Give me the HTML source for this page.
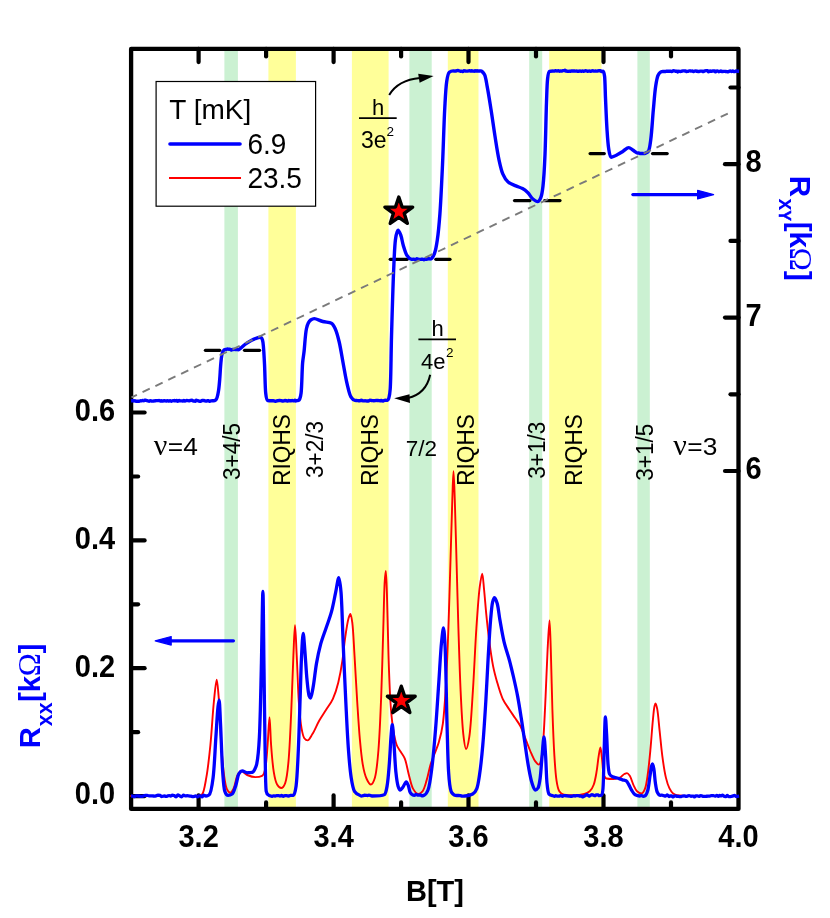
<!DOCTYPE html>
<html><head><meta charset="utf-8"><title>fig</title>
<style>
html,body{margin:0;padding:0;background:#fff;}
body{width:830px;height:918px;overflow:hidden;}
svg{display:block;font-family:"Liberation Sans",sans-serif;will-change:transform;}
.b{font-weight:bold;}
.ser{font-family:"Liberation Serif",serif;}
</style></head><body>
<svg width="830" height="918" viewBox="0 0 830 918">
<rect x="0" y="0" width="830" height="918" fill="#ffffff"/>

<rect x="224.4" y="48.9" width="13.5" height="760.0" fill="#cbf1d2"/>
<rect x="268.4" y="48.9" width="27.5" height="760.0" fill="#ffff99"/>
<rect x="351.9" y="48.9" width="36.7" height="760.0" fill="#ffff99"/>
<rect x="409.4" y="48.9" width="22.3" height="760.0" fill="#cbf1d2"/>
<rect x="447.8" y="48.9" width="30.7" height="760.0" fill="#ffff99"/>
<rect x="529.2" y="48.9" width="13.0" height="760.0" fill="#cbf1d2"/>
<rect x="549.2" y="48.9" width="52.3" height="760.0" fill="#ffff99"/>
<rect x="637.4" y="48.9" width="12.4" height="760.0" fill="#cbf1d2"/>
<rect x="156.1" y="81.5" width="159.5" height="124.7" fill="#fff" stroke="#000" stroke-width="1.2"/>
<text x="169.3" y="118.9" font-size="28">T [mK]</text>
<line x1="170" y1="144" x2="240" y2="144" stroke="#0000ff" stroke-width="3.6" stroke-linecap="round"/>
<line x1="169" y1="178" x2="241" y2="178" stroke="#ff0000" stroke-width="2"/>
<text transform="translate(247.4,153.7) scale(1,1.05)" font-size="28">6.9</text>
<text transform="translate(247.4,187.9) scale(1,1.05)" font-size="28">23.5</text>
<line x1="205.4" y1="350.3" x2="219.8" y2="350.3" stroke="#000" stroke-width="3.2" stroke-linecap="round"/>
<line x1="244.5" y1="350.3" x2="259.6" y2="350.3" stroke="#000" stroke-width="3.2" stroke-linecap="round"/>
<line x1="390.2" y1="259.3" x2="407.3" y2="259.3" stroke="#000" stroke-width="3.2" stroke-linecap="round"/>
<line x1="435.8" y1="259.3" x2="450.0" y2="259.3" stroke="#000" stroke-width="3.2" stroke-linecap="round"/>
<line x1="514.5" y1="200.6" x2="529.9" y2="200.6" stroke="#000" stroke-width="3.2" stroke-linecap="round"/>
<line x1="544.6" y1="200.6" x2="560.0" y2="200.6" stroke="#000" stroke-width="3.2" stroke-linecap="round"/>
<line x1="590.1" y1="153.6" x2="604.3" y2="153.6" stroke="#000" stroke-width="3.2" stroke-linecap="round"/>
<line x1="652.5" y1="153.6" x2="667.2" y2="153.6" stroke="#000" stroke-width="3.2" stroke-linecap="round"/>
<line x1="198.6" y1="808.9" x2="198.6" y2="795.4" stroke="#000" stroke-width="4.2" stroke-linecap="round"/>
<line x1="198.6" y1="48.9" x2="198.6" y2="62.1" stroke="#000" stroke-width="4.2" stroke-linecap="round"/>
<line x1="266.1" y1="808.9" x2="266.1" y2="802.4" stroke="#000" stroke-width="4.2" stroke-linecap="round"/>
<line x1="266.1" y1="48.9" x2="266.1" y2="56.4" stroke="#000" stroke-width="4.2" stroke-linecap="round"/>
<line x1="333.6" y1="808.9" x2="333.6" y2="795.4" stroke="#000" stroke-width="4.2" stroke-linecap="round"/>
<line x1="333.6" y1="48.9" x2="333.6" y2="62.1" stroke="#000" stroke-width="4.2" stroke-linecap="round"/>
<line x1="401.1" y1="808.9" x2="401.1" y2="802.4" stroke="#000" stroke-width="4.2" stroke-linecap="round"/>
<line x1="401.1" y1="48.9" x2="401.1" y2="56.4" stroke="#000" stroke-width="4.2" stroke-linecap="round"/>
<line x1="468.5" y1="808.9" x2="468.5" y2="795.4" stroke="#000" stroke-width="4.2" stroke-linecap="round"/>
<line x1="468.5" y1="48.9" x2="468.5" y2="62.1" stroke="#000" stroke-width="4.2" stroke-linecap="round"/>
<line x1="536.0" y1="808.9" x2="536.0" y2="802.4" stroke="#000" stroke-width="4.2" stroke-linecap="round"/>
<line x1="536.0" y1="48.9" x2="536.0" y2="56.4" stroke="#000" stroke-width="4.2" stroke-linecap="round"/>
<line x1="603.5" y1="808.9" x2="603.5" y2="795.4" stroke="#000" stroke-width="4.2" stroke-linecap="round"/>
<line x1="603.5" y1="48.9" x2="603.5" y2="62.1" stroke="#000" stroke-width="4.2" stroke-linecap="round"/>
<line x1="671.0" y1="808.9" x2="671.0" y2="802.4" stroke="#000" stroke-width="4.2" stroke-linecap="round"/>
<line x1="671.0" y1="48.9" x2="671.0" y2="56.4" stroke="#000" stroke-width="4.2" stroke-linecap="round"/>
<line x1="131.1" y1="796.1" x2="144.6" y2="796.1" stroke="#000" stroke-width="4.2" stroke-linecap="round"/>
<line x1="131.1" y1="732.2" x2="138.1" y2="732.2" stroke="#000" stroke-width="4.2" stroke-linecap="round"/>
<line x1="131.1" y1="668.2" x2="144.6" y2="668.2" stroke="#000" stroke-width="4.2" stroke-linecap="round"/>
<line x1="131.1" y1="604.3" x2="138.1" y2="604.3" stroke="#000" stroke-width="4.2" stroke-linecap="round"/>
<line x1="131.1" y1="540.4" x2="144.6" y2="540.4" stroke="#000" stroke-width="4.2" stroke-linecap="round"/>
<line x1="131.1" y1="476.5" x2="138.1" y2="476.5" stroke="#000" stroke-width="4.2" stroke-linecap="round"/>
<line x1="131.1" y1="412.5" x2="144.6" y2="412.5" stroke="#000" stroke-width="4.2" stroke-linecap="round"/>
<line x1="738.5" y1="471.0" x2="725.0" y2="471.0" stroke="#000" stroke-width="4.2" stroke-linecap="round"/>
<line x1="738.5" y1="394.3" x2="730.5" y2="394.3" stroke="#000" stroke-width="4.2" stroke-linecap="round"/>
<line x1="738.5" y1="317.6" x2="725.0" y2="317.6" stroke="#000" stroke-width="4.2" stroke-linecap="round"/>
<line x1="738.5" y1="240.9" x2="730.5" y2="240.9" stroke="#000" stroke-width="4.2" stroke-linecap="round"/>
<line x1="738.5" y1="164.2" x2="725.0" y2="164.2" stroke="#000" stroke-width="4.2" stroke-linecap="round"/>
<line x1="738.5" y1="87.5" x2="730.5" y2="87.5" stroke="#000" stroke-width="4.2" stroke-linecap="round"/>
<rect x="131.1" y="48.9" width="607.4" height="760.0" fill="none" stroke="#000" stroke-width="4.3" stroke-linejoin="round"/>
<path d="M131.10,796.00 C147.40,796.00 167.93,796.00 180.00,796.00 C187.32,796.00 194.40,796.00 198.00,796.00 C199.76,796.00 201.04,795.29 202.00,794.50 C203.94,792.92 205.12,784.20 206.30,777.70 C207.93,768.74 209.23,756.67 210.40,745.00 C211.74,731.57 212.66,713.39 213.90,701.50 C214.78,693.06 215.88,679.70 216.70,679.70 C217.41,679.70 218.02,689.26 218.60,696.00 C219.60,707.65 220.29,730.74 221.30,745.00 C222.09,756.17 222.91,767.09 224.00,775.00 C224.74,780.37 225.44,785.73 226.70,788.60 C227.49,790.40 229.16,792.70 230.30,792.70 C231.42,792.70 232.56,790.38 233.50,788.60 C235.06,785.67 235.98,777.89 237.60,775.00 C238.61,773.21 239.79,770.90 241.20,770.90 C242.81,770.90 244.90,774.12 247.10,775.00 C249.49,775.96 252.69,777.10 255.30,777.10 C257.66,777.10 260.71,776.53 262.10,775.80 C263.74,774.94 264.94,770.44 265.60,766.80 C266.60,761.32 266.99,752.70 267.60,745.00 C268.29,736.33 268.92,717.30 269.50,717.30 C270.08,717.30 270.43,735.82 271.10,745.00 C271.77,754.12 272.62,765.07 273.80,772.20 C274.60,777.07 275.62,782.07 277.10,784.50 C278.06,786.08 279.90,788.00 281.20,788.00 C282.60,788.00 284.35,785.31 285.20,783.10 C286.79,778.99 287.71,769.99 288.50,761.40 C289.69,748.56 290.42,729.36 291.20,712.40 C292.04,694.08 292.66,671.06 293.40,655.20 C293.93,643.73 294.45,625.30 295.00,625.30 C295.55,625.30 296.14,644.19 296.70,655.20 C297.40,668.90 297.90,688.20 298.80,701.50 C299.49,711.72 300.43,722.18 301.60,728.70 C302.30,732.62 303.09,736.56 304.30,738.20 C305.07,739.24 306.49,740.40 307.60,740.40 C309.18,740.40 310.77,736.63 312.40,734.10 C314.66,730.59 316.91,724.71 319.30,720.50 C321.48,716.65 323.84,713.31 326.10,709.70 C328.37,706.08 331.05,702.89 332.90,698.80 C335.05,694.06 336.85,688.29 338.30,682.40 C339.94,675.74 341.34,667.96 342.40,660.70 C343.46,653.46 343.99,646.03 345.00,638.90 C345.98,631.98 347.27,622.61 348.50,618.50 C349.10,616.48 349.85,613.90 350.40,613.90 C351.13,613.90 351.81,618.89 352.30,622.60 C353.24,629.71 353.76,643.41 354.50,655.20 C355.39,669.25 356.26,686.83 357.20,701.50 C358.06,714.81 358.88,728.35 359.90,739.60 C360.72,748.64 361.48,757.04 362.70,764.10 C363.66,769.69 365.06,775.53 366.70,779.00 C367.79,781.32 369.48,784.50 370.80,784.50 C372.22,784.50 374.01,780.69 374.90,777.70 C376.56,772.15 377.54,761.03 378.40,750.50 C379.61,735.65 380.45,715.23 381.20,696.10 C382.04,674.70 382.68,648.44 383.30,628.00 C383.81,611.16 384.11,591.47 384.70,581.80 C384.99,577.09 385.49,570.90 385.80,570.90 C386.23,570.90 386.56,583.76 386.90,592.70 C387.48,607.83 387.88,635.96 388.50,655.20 C389.03,671.76 389.57,688.20 390.40,701.50 C391.04,711.71 391.95,720.87 393.10,728.70 C394.00,734.82 395.20,740.96 396.70,745.00 C397.73,747.78 399.35,749.54 400.70,751.80 C402.05,754.07 403.68,755.82 404.80,758.60 C406.44,762.66 407.47,769.81 408.90,775.00 C410.21,779.76 411.22,785.46 413.00,788.60 C414.31,790.90 416.65,794.00 418.40,794.00 C419.80,794.00 421.41,792.56 422.50,791.30 C424.18,789.35 425.35,784.42 426.60,780.40 C428.10,775.58 429.20,768.92 430.70,764.10 C431.95,760.08 433.45,756.84 434.80,753.20 C436.15,749.57 437.62,746.44 438.80,742.30 C440.33,736.94 441.97,730.47 442.90,723.30 C444.11,713.98 444.82,703.15 445.60,690.60 C446.67,673.25 447.62,649.30 448.40,628.00 C449.21,605.81 449.83,581.95 450.50,560.00 C451.13,539.38 451.71,516.17 452.30,500.00 C452.71,488.81 453.08,471.30 453.50,471.30 C453.92,471.30 454.39,488.81 454.80,500.00 C455.40,516.17 455.92,539.38 456.50,560.00 C457.12,581.95 457.71,605.81 458.40,628.00 C459.07,649.30 459.72,671.69 460.60,690.60 C461.33,706.38 462.13,723.66 463.30,734.10 C463.99,740.28 465.06,749.10 466.10,749.10 C467.05,749.10 468.49,742.12 469.30,736.90 C470.86,726.88 471.80,707.17 472.90,690.60 C474.17,671.35 475.14,646.56 476.40,628.00 C477.42,613.00 478.44,596.88 479.70,587.20 C480.43,581.57 481.51,573.60 482.20,573.60 C482.95,573.60 483.48,583.93 484.10,589.90 C484.85,597.21 485.49,606.24 486.30,614.40 C487.11,622.57 487.94,630.53 489.00,638.90 C490.12,647.74 491.56,658.27 493.10,666.10 C494.31,672.22 495.64,676.99 497.20,682.40 C498.78,687.89 500.53,694.05 502.70,698.80 C504.57,702.89 507.34,706.36 509.50,709.70 C511.38,712.61 513.10,715.09 514.90,717.80 C516.70,720.52 518.66,722.87 520.30,726.00 C522.31,729.83 523.98,735.06 525.80,739.60 C527.62,744.13 529.44,749.30 531.20,753.20 C532.59,756.29 533.81,759.51 535.30,761.40 C536.37,762.76 537.91,764.60 538.80,764.60 C539.84,764.60 540.74,761.17 541.30,758.60 C542.33,753.89 542.89,745.20 543.50,736.90 C544.33,725.53 544.94,710.13 545.60,696.10 C546.30,681.16 546.87,663.43 547.60,649.80 C548.18,638.94 548.99,620.40 549.50,620.40 C550.01,620.40 550.40,638.39 550.80,649.80 C551.38,666.08 551.77,691.06 552.40,709.70 C552.95,726.08 553.61,743.04 554.40,755.90 C554.98,765.28 555.55,774.00 556.50,780.40 C557.14,784.73 557.97,789.17 559.30,791.30 C560.25,792.81 561.99,794.30 563.90,794.60 C566.58,795.02 571.47,795.30 575.00,795.30 C578.24,795.30 581.71,794.64 584.30,794.00 C586.38,793.49 588.26,792.53 589.70,791.30 C591.35,789.89 592.85,787.15 593.80,784.50 C595.00,781.16 595.75,776.60 596.50,772.20 C597.36,767.18 597.94,760.39 598.70,755.90 C599.25,752.66 599.89,747.50 600.40,747.50 C600.96,747.50 601.43,753.92 601.90,757.70 C602.50,762.47 602.73,770.55 603.60,774.00 C604.09,775.95 605.06,778.23 606.30,778.50 C607.75,778.81 611.19,779.00 613.50,779.00 C615.68,779.00 617.99,778.29 619.80,777.60 C621.51,776.95 622.92,774.61 624.30,774.00 C625.27,773.57 626.15,773.10 627.00,773.10 C627.99,773.10 628.96,774.61 629.80,775.80 C631.13,777.68 632.11,782.11 633.40,784.80 C634.52,787.14 635.55,789.93 637.00,791.20 C638.20,792.26 640.24,793.50 641.50,793.50 C642.90,793.50 644.29,790.56 645.10,788.40 C646.34,785.09 647.02,779.45 647.80,774.00 C648.83,766.82 649.68,757.42 650.50,748.70 C651.37,739.40 652.11,727.54 652.90,719.80 C653.44,714.48 653.85,708.80 654.50,706.20 C654.80,705.00 655.23,703.50 655.60,703.50 C656.12,703.50 656.73,706.57 657.20,708.90 C658.12,713.49 658.78,723.09 659.60,730.60 C660.48,738.71 661.24,747.81 662.30,755.90 C663.29,763.42 664.49,771.74 665.90,777.60 C666.91,781.81 668.11,785.63 669.50,788.40 C670.53,790.45 671.75,792.48 673.10,793.50 C674.19,794.33 675.21,795.07 676.80,795.30 C679.65,795.71 684.41,796.00 690.00,796.00 C700.66,796.00 722.00,796.00 738.00,796.00" fill="none" stroke="#ff0000" stroke-width="1.9" stroke-linejoin="round" stroke-linecap="round"/>
<path d="M131.10,796.00 C131.63,796.01 132.19,796.02 132.70,796.04 C133.21,796.07 133.67,796.56 134.18,796.56 C134.72,796.56 135.36,795.88 135.87,795.88 C136.28,795.88 136.58,795.88 137.01,795.88 C137.56,795.88 138.28,795.93 138.93,795.98 C139.61,796.03 140.36,796.33 141.01,796.33 C141.56,796.33 142.05,796.30 142.58,796.26 C143.15,796.22 143.77,795.66 144.31,795.56 C144.76,795.48 145.13,795.43 145.58,795.40 C146.08,795.36 146.65,795.32 147.20,795.32 C147.80,795.32 148.41,795.92 149.03,795.92 C149.64,795.92 150.28,795.86 150.88,795.86 C151.45,795.86 151.98,795.92 152.57,795.96 C153.19,796.01 153.90,796.11 154.52,796.11 C155.07,796.11 155.56,795.95 156.09,795.82 C156.68,795.67 157.27,795.09 157.90,795.09 C158.54,795.09 159.31,795.22 159.90,795.36 C160.48,795.50 160.87,796.50 161.45,796.50 C162.04,796.50 162.88,796.27 163.47,796.15 C163.93,796.05 164.30,795.86 164.72,795.86 C165.16,795.86 165.57,796.47 166.04,796.47 C166.57,796.47 167.22,796.05 167.77,795.90 C168.26,795.76 168.70,795.56 169.18,795.56 C169.66,795.56 170.14,795.98 170.63,795.98 C171.18,795.98 171.73,795.16 172.31,795.16 C172.88,795.16 173.50,795.33 174.09,795.51 C174.77,795.71 175.49,796.86 176.10,796.86 C176.74,796.86 177.21,794.92 177.86,794.92 C178.49,794.92 179.34,795.68 180.00,796.00 C180.57,796.28 181.06,796.75 181.60,796.75 C182.25,796.75 182.93,795.11 183.59,795.11 C184.15,795.11 184.67,795.93 185.25,795.93 C185.86,795.93 186.56,795.70 187.17,795.70 C187.75,795.70 188.27,795.89 188.84,795.96 C189.46,796.04 190.13,796.07 190.78,796.16 C191.47,796.26 192.22,796.69 192.85,796.69 C193.39,796.69 193.90,796.55 194.37,796.43 C194.82,796.31 195.17,795.79 195.63,795.79 C196.21,795.79 197.04,796.74 197.59,796.74 C198.04,796.74 198.30,795.90 198.75,795.90 C199.26,795.90 200.02,795.90 200.56,795.91 C201.09,795.92 201.53,796.93 202.00,796.93 C202.55,796.93 202.97,795.14 203.61,795.14 C204.26,795.14 205.16,796.00 206.00,796.00 C206.94,796.00 208.24,795.53 209.00,795.00 C210.80,793.74 212.23,784.62 213.10,777.70 C214.42,767.21 215.03,749.43 215.90,736.90 C216.65,726.15 217.26,713.07 218.00,706.90 C218.35,703.95 218.79,700.10 219.10,700.10 C219.66,700.10 220.02,714.24 220.50,723.30 C221.20,736.44 221.80,759.90 222.70,772.20 C223.26,779.91 223.69,787.75 224.80,791.30 C225.38,793.16 226.83,795.40 228.10,795.40 C229.26,795.40 231.16,794.72 232.20,794.00 C233.68,792.97 234.67,788.90 235.70,785.90 C236.94,782.29 237.58,775.78 239.00,773.60 C239.81,772.35 240.97,770.90 242.20,770.90 C243.58,770.90 245.92,772.80 247.10,772.80 C247.76,772.80 248.16,772.56 248.70,772.56 C249.26,772.56 249.89,772.61 250.40,772.61 C250.82,772.61 251.17,772.53 251.55,772.46 C251.91,772.40 252.21,772.34 252.60,772.20 C253.74,771.79 255.92,767.56 256.70,764.10 C258.06,758.09 258.83,747.84 259.40,736.90 C260.30,719.64 260.74,692.23 261.30,668.80 C261.90,643.81 262.47,591.30 262.90,591.30 C263.33,591.30 263.64,642.63 264.00,668.80 C264.37,695.67 264.67,728.17 265.10,750.50 C265.41,766.28 265.47,785.69 266.20,791.30 C266.45,793.25 267.99,794.94 268.90,795.40 C269.43,795.67 270.00,795.74 270.50,795.92 C270.95,796.08 271.33,796.43 271.77,796.43 C272.23,796.43 272.67,795.87 273.19,795.87 C273.80,795.87 274.61,796.09 275.23,796.09 C275.79,796.09 276.26,795.58 276.79,795.56 C277.32,795.55 277.88,795.54 278.41,795.54 C278.95,795.54 279.47,796.00 280.00,796.00 C280.53,796.00 281.07,795.45 281.60,795.45 C282.17,795.45 282.76,796.35 283.32,796.35 C283.84,796.35 284.30,795.59 284.85,795.59 C285.41,795.59 286.04,795.67 286.66,795.73 C287.33,795.80 288.08,795.99 288.72,795.99 C289.30,795.99 289.80,795.49 290.34,795.47 C290.85,795.46 291.35,795.46 291.86,795.45 C292.37,795.44 292.97,795.43 293.40,795.40 C294.49,795.33 295.54,789.96 296.10,785.90 C297.17,778.20 297.69,763.52 298.30,750.50 C299.05,734.37 299.62,712.91 300.20,696.10 C300.70,681.52 301.02,666.59 301.60,655.20 C302.02,646.89 302.63,633.50 303.20,633.50 C303.70,633.50 304.26,643.59 304.80,649.80 C305.53,658.20 306.15,671.30 307.00,679.70 C307.63,685.94 308.27,693.70 309.20,696.10 C309.55,696.99 310.09,698.00 310.50,698.00 C311.38,698.00 312.20,691.95 313.00,687.90 C314.23,681.65 315.17,671.01 316.50,663.40 C317.68,656.65 318.99,650.45 320.60,644.40 C322.12,638.69 324.28,633.46 326.10,628.00 C327.91,622.56 330.00,617.38 331.50,611.70 C333.10,605.66 334.32,598.65 335.60,592.70 C336.73,587.41 337.92,577.70 338.80,577.70 C339.66,577.70 340.48,585.97 341.00,592.00 C341.95,603.17 342.35,624.30 343.10,641.60 C343.93,660.61 344.85,682.55 345.80,701.50 C346.66,718.64 347.46,736.66 348.50,750.50 C349.27,760.83 350.05,770.31 351.20,777.70 C352.02,782.99 352.92,788.62 354.50,791.30 C355.60,793.16 358.61,794.75 359.90,795.40 C360.55,795.73 360.95,796.10 361.50,796.10 C362.06,796.10 362.71,795.79 363.23,795.64 C363.66,795.52 363.97,795.27 364.40,795.27 C364.93,795.27 365.62,795.31 366.18,795.35 C366.69,795.39 367.19,795.59 367.64,795.59 C368.04,795.59 368.39,795.13 368.78,795.13 C369.16,795.13 369.51,795.27 369.95,795.38 C370.54,795.52 371.08,796.00 372.00,796.00 C374.22,796.00 382.75,795.44 384.40,794.60 C385.81,793.88 386.47,789.42 387.10,785.90 C388.08,780.44 388.68,771.93 389.30,764.10 C390.03,754.92 390.56,741.11 391.20,734.10 C391.56,730.15 391.93,724.60 392.30,724.60 C392.76,724.60 393.22,733.71 393.70,739.60 C394.41,748.27 395.02,763.80 395.90,772.20 C396.48,777.67 397.07,782.87 398.00,785.90 C398.54,787.65 399.36,790.00 400.20,790.00 C400.97,790.00 402.02,788.31 402.90,787.20 C404.02,785.78 405.24,781.80 406.20,781.80 C407.02,781.80 407.79,784.34 408.40,785.90 C409.15,787.82 409.37,791.25 410.30,792.70 C411.07,793.91 413.37,795.40 414.40,795.40 C415.04,795.40 415.46,794.37 416.00,794.37 C416.51,794.37 417.03,795.00 417.56,795.07 C418.04,795.13 418.54,795.18 419.03,795.18 C419.51,795.18 419.99,794.99 420.45,794.99 C420.94,794.99 421.33,795.84 421.86,795.84 C422.45,795.84 423.19,795.64 423.90,795.40 C425.19,794.97 427.03,792.42 428.00,790.00 C429.81,785.50 430.89,775.46 432.00,766.80 C433.42,755.75 434.53,742.01 435.60,728.70 C436.78,714.04 437.77,697.34 438.80,682.40 C439.77,668.37 440.59,651.30 441.60,641.60 C442.19,635.98 442.97,628.00 443.50,628.00 C444.13,628.00 444.69,638.91 445.10,647.10 C445.92,663.43 446.35,700.80 447.00,723.30 C447.52,741.33 447.81,759.91 448.60,772.20 C449.09,779.91 449.79,787.87 451.10,791.30 C451.82,793.18 454.05,795.28 455.20,795.40 C455.80,795.47 456.26,795.51 456.80,795.51 C457.35,795.51 457.90,795.50 458.47,795.50 C459.06,795.50 459.68,795.54 460.29,795.59 C460.92,795.65 461.60,796.12 462.18,796.12 C462.67,796.12 463.07,796.11 463.53,796.09 C464.01,796.08 464.36,796.05 465.00,796.00 C466.50,795.88 470.83,795.00 472.70,794.00 C474.43,793.08 475.92,790.86 476.80,788.60 C478.06,785.37 478.68,780.36 479.50,775.00 C480.71,767.08 481.85,755.90 482.80,745.00 C483.94,731.89 484.91,716.23 485.80,701.50 C486.72,686.31 487.44,669.56 488.30,655.20 C489.05,642.65 489.75,629.55 490.60,619.90 C491.20,613.05 491.72,605.96 492.60,602.20 C493.07,600.21 493.80,597.60 494.50,597.60 C495.30,597.60 496.50,601.05 497.20,603.50 C498.33,607.41 498.88,614.07 499.90,619.90 C501.08,626.62 502.40,634.64 504.00,641.60 C505.52,648.20 507.88,654.57 509.50,660.70 C510.99,666.33 512.20,671.35 513.50,677.00 C514.90,683.10 516.36,689.52 517.60,696.10 C518.91,703.08 520.07,710.55 521.20,717.80 C522.33,725.05 523.26,731.94 524.40,739.60 C525.67,748.16 527.07,758.96 528.50,766.80 C529.62,772.91 530.63,778.98 532.00,783.10 C532.93,785.89 534.08,790.00 535.30,790.00 C536.11,790.00 537.41,788.95 538.00,788.00 C539.04,786.32 539.64,781.74 540.20,777.70 C541.00,771.88 541.44,762.91 542.10,755.90 C542.71,749.35 543.42,736.90 544.00,736.90 C544.58,736.90 545.15,749.02 545.60,755.90 C546.14,764.13 546.35,776.22 547.00,783.10 C547.42,787.49 547.88,792.56 548.90,794.00 C549.55,794.91 551.95,795.46 553.00,795.80 C553.64,796.01 554.11,796.26 554.60,796.26 C555.04,796.26 555.36,795.64 555.82,795.64 C556.37,795.64 557.13,796.20 557.74,796.20 C558.28,796.20 558.78,796.10 559.28,796.02 C559.77,795.93 560.22,795.64 560.72,795.64 C561.28,795.64 561.93,796.24 562.47,796.24 C562.95,796.24 563.35,795.55 563.80,795.55 C564.21,795.55 564.59,795.58 565.04,795.60 C565.60,795.63 566.30,795.77 566.93,795.85 C567.57,795.93 568.22,796.00 568.86,796.06 C569.49,796.13 570.14,796.26 570.75,796.26 C571.34,796.26 571.97,796.18 572.49,796.09 C572.95,796.01 573.30,795.57 573.73,795.57 C574.18,795.57 574.66,796.06 575.13,796.06 C575.61,796.06 576.09,795.66 576.59,795.63 C577.08,795.60 577.58,795.58 578.11,795.58 C578.71,795.58 579.39,795.92 580.00,796.00 C580.55,796.07 581.12,796.06 581.60,796.15 C582.06,796.23 582.40,796.95 582.87,796.95 C583.45,796.95 584.17,796.18 584.83,795.81 C585.51,795.43 586.23,794.67 586.90,794.67 C587.59,794.67 588.29,796.03 588.91,796.03 C589.39,796.03 589.78,795.71 590.25,795.50 C590.80,795.26 591.42,794.59 592.00,794.59 C592.55,794.59 593.10,795.08 593.62,795.27 C594.08,795.44 594.54,795.71 594.96,795.71 C595.38,795.71 595.69,794.94 596.14,794.94 C596.67,794.94 597.51,794.95 598.04,794.97 C598.49,794.99 598.74,795.68 599.20,795.68 C599.85,795.68 601.28,795.37 601.70,795.00 C602.38,794.40 602.75,791.33 603.00,788.40 C603.57,781.60 603.70,764.27 604.10,752.30 C604.49,740.47 604.90,717.00 605.40,717.00 C605.75,717.00 606.21,727.69 606.60,734.20 C607.12,742.90 607.45,757.91 608.10,764.90 C608.45,768.72 608.76,772.18 609.50,774.00 C610.00,775.22 611.41,776.14 612.60,776.70 C613.87,777.30 615.54,777.52 617.10,778.00 C618.82,778.53 620.88,779.32 622.50,779.80 C623.81,780.19 625.12,780.29 626.10,780.80 C627.22,781.39 628.03,783.34 628.90,784.80 C629.87,786.42 630.56,788.53 631.60,790.20 C632.62,791.84 633.80,794.11 635.20,794.80 C636.45,795.41 638.61,796.00 639.70,796.00 C640.36,796.00 640.74,795.52 641.30,795.52 C641.93,795.52 642.63,796.28 643.28,796.28 C643.90,796.28 644.55,796.00 645.10,795.70 C646.09,795.15 647.16,792.47 647.80,790.20 C648.78,786.71 649.35,780.02 650.00,775.80 C650.51,772.46 650.85,768.85 651.40,766.80 C651.71,765.62 652.14,764.00 652.50,764.00 C652.95,764.00 653.44,766.68 653.80,768.60 C654.43,771.94 654.77,778.80 655.40,783.00 C655.90,786.35 656.31,790.00 657.20,792.00 C657.83,793.43 659.51,795.30 660.50,795.30 C661.08,795.30 661.56,795.07 662.10,795.07 C662.70,795.07 663.32,795.60 663.94,795.73 C664.52,795.86 665.14,796.02 665.69,796.02 C666.27,796.02 666.78,794.89 667.32,794.89 C667.89,794.89 668.51,796.48 669.02,796.48 C669.38,796.48 669.63,796.01 670.00,796.00 C670.45,795.99 671.09,795.99 671.60,795.99 C672.15,795.99 672.63,796.89 673.18,796.89 C673.77,796.89 674.43,795.82 675.05,795.82 C675.60,795.82 676.11,796.17 676.68,796.24 C677.29,796.31 677.95,796.31 678.59,796.38 C679.25,796.44 679.94,796.70 680.59,796.70 C681.24,796.70 681.86,796.07 682.49,796.02 C683.06,795.98 683.62,795.95 684.21,795.95 C684.84,795.95 685.56,796.34 686.16,796.34 C686.65,796.34 687.06,796.22 687.53,796.11 C688.06,795.99 688.60,795.55 689.16,795.55 C689.76,795.55 690.48,796.24 691.03,796.24 C691.44,796.24 691.77,796.23 692.15,796.22 C692.55,796.21 693.00,796.08 693.39,796.08 C693.81,796.08 694.18,796.87 694.57,796.87 C694.98,796.87 695.32,795.87 695.78,795.86 C696.24,795.85 696.86,795.84 697.38,795.84 C697.88,795.84 698.33,796.36 698.84,796.36 C699.39,796.36 700.03,795.64 700.58,795.64 C701.03,795.64 701.44,795.70 701.88,795.78 C702.36,795.86 702.80,796.41 703.32,796.41 C703.87,796.41 704.55,796.41 705.12,796.40 C705.64,796.40 706.11,796.29 706.61,796.25 C707.10,796.20 707.58,796.16 708.09,796.14 C708.63,796.11 709.21,796.12 709.79,796.09 C710.41,796.06 711.06,795.57 711.68,795.57 C712.26,795.57 712.84,795.58 713.39,795.61 C713.94,795.63 714.45,796.18 714.99,796.18 C715.57,796.18 716.22,795.39 716.78,795.39 C717.33,795.39 717.85,796.33 718.35,796.33 C718.82,796.33 719.25,795.32 719.70,795.32 C720.10,795.32 720.47,795.85 720.89,795.85 C721.37,795.85 721.88,795.17 722.42,795.17 C723.06,795.17 723.79,796.27 724.44,796.42 C724.95,796.53 725.46,796.64 725.92,796.64 C726.41,796.64 726.81,795.52 727.29,795.52 C727.79,795.52 728.29,796.59 728.85,796.59 C729.40,796.59 730.01,796.58 730.61,796.58 C731.25,796.57 731.95,796.36 732.58,796.18 C733.21,796.00 733.83,795.36 734.41,795.36 C734.99,795.36 735.54,796.48 736.07,796.48 C736.46,796.48 736.77,796.42 737.19,796.36 C737.74,796.29 738.46,796.12 739.10,796.00" fill="none" stroke="#0000ff" stroke-width="3.3" stroke-linejoin="round" stroke-linecap="butt"/>
<path d="M131.10,400.80 C131.50,400.80 131.93,400.81 132.30,400.81 C132.62,400.81 132.91,400.71 133.21,400.71 C133.51,400.71 133.82,400.94 134.12,400.94 C134.41,400.94 134.65,400.67 134.97,400.67 C135.39,400.67 135.94,401.22 136.42,401.22 C136.86,401.22 137.29,401.21 137.75,401.20 C138.22,401.19 138.72,401.19 139.19,401.18 C139.67,401.16 140.19,400.68 140.60,400.68 C140.92,400.68 141.15,400.84 141.47,400.84 C141.87,400.84 142.42,400.44 142.82,400.44 C143.16,400.44 143.45,400.80 143.74,400.80 C144.05,400.80 144.30,400.10 144.62,400.10 C144.94,400.10 145.35,400.21 145.70,400.28 C146.04,400.36 146.38,400.49 146.71,400.58 C147.04,400.66 147.33,400.71 147.68,400.80 C148.10,400.91 148.64,401.22 149.06,401.22 C149.47,401.22 149.81,400.60 150.19,400.60 C150.55,400.60 150.91,400.98 151.28,401.02 C151.65,401.07 152.01,401.11 152.42,401.11 C152.90,401.11 153.49,401.03 153.96,400.98 C154.37,400.93 154.70,400.85 155.10,400.80 C155.53,400.74 155.99,400.62 156.44,400.62 C156.89,400.62 157.38,400.63 157.82,400.63 C158.23,400.63 158.61,400.48 159.01,400.48 C159.44,400.48 159.91,400.94 160.31,400.94 C160.64,400.94 160.89,400.70 161.22,400.70 C161.63,400.70 162.16,401.11 162.60,401.11 C163.01,401.11 163.35,400.62 163.76,400.62 C164.19,400.62 164.70,400.83 165.12,400.89 C165.47,400.95 165.75,401.02 166.10,401.02 C166.50,401.02 166.93,400.71 167.36,400.71 C167.80,400.71 168.24,401.00 168.70,401.00 C169.19,401.00 169.77,400.67 170.23,400.67 C170.64,400.67 170.96,401.25 171.36,401.25 C171.81,401.25 172.37,400.60 172.82,400.60 C173.17,400.60 173.50,400.68 173.81,400.68 C174.11,400.68 174.38,400.51 174.67,400.51 C174.99,400.51 175.30,400.84 175.63,400.84 C175.99,400.84 176.40,400.57 176.73,400.57 C177.08,400.57 177.32,401.27 177.68,401.27 C178.12,401.27 178.81,400.40 179.23,400.40 C179.53,400.40 179.71,400.77 180.00,400.80 C180.34,400.83 180.78,400.83 181.20,400.85 C181.66,400.88 182.19,400.97 182.64,400.97 C183.06,400.97 183.42,400.46 183.83,400.46 C184.26,400.46 184.73,400.99 185.19,400.99 C185.64,400.99 186.08,400.56 186.55,400.56 C187.04,400.56 187.63,400.57 188.09,400.59 C188.46,400.60 188.74,400.84 189.09,400.84 C189.51,400.84 189.99,400.58 190.45,400.46 C190.93,400.34 191.49,400.12 191.91,400.12 C192.29,400.12 192.57,400.80 192.92,400.89 C193.23,400.96 193.55,400.97 193.90,401.02 C194.31,401.07 194.86,401.21 195.24,401.21 C195.63,401.21 195.87,400.30 196.27,400.30 C196.68,400.30 197.25,400.54 197.73,400.68 C198.19,400.81 198.69,400.99 199.09,401.09 C199.42,401.17 199.68,401.27 200.00,401.27 C200.33,401.27 200.71,401.20 201.05,401.11 C201.42,401.02 201.79,400.41 202.14,400.41 C202.43,400.41 202.69,400.58 202.99,400.58 C203.32,400.58 203.72,400.48 204.07,400.48 C204.41,400.48 204.70,400.86 205.06,400.93 C205.45,401.01 205.91,401.09 206.32,401.09 C206.74,401.09 207.17,400.72 207.55,400.72 C207.88,400.72 208.18,400.72 208.48,400.73 C208.80,400.74 209.05,401.24 209.40,401.24 C209.82,401.24 210.38,400.99 210.88,400.91 C211.38,400.83 211.93,400.73 212.40,400.73 C212.79,400.73 213.08,400.80 213.50,400.80 C214.13,400.80 215.21,400.37 215.80,399.90 C217.00,398.95 218.07,393.63 218.60,390.20 C219.18,386.45 219.48,382.21 219.80,378.20 C220.12,374.18 220.29,369.89 220.60,366.10 C220.88,362.72 221.18,359.11 221.60,356.50 C221.90,354.63 222.22,352.84 222.80,351.70 C223.27,350.77 224.48,349.50 225.20,349.50 C225.64,349.50 226.03,349.59 226.40,349.59 C226.77,349.59 227.07,349.03 227.45,349.03 C227.86,349.03 228.36,349.24 228.78,349.24 C229.14,349.24 229.46,349.12 229.81,349.12 C230.26,349.12 230.79,350.02 231.19,350.02 C231.49,350.02 231.70,349.64 232.00,349.60 C232.35,349.55 232.83,349.55 233.20,349.51 C233.53,349.48 233.79,349.35 234.12,349.35 C234.53,349.35 235.03,349.67 235.48,349.67 C235.92,349.67 236.34,349.50 236.81,349.50 C237.31,349.50 237.73,349.70 238.40,349.70 C240.01,349.70 243.04,345.67 245.70,343.90 C248.59,341.98 252.60,339.52 255.30,338.60 C257.12,337.98 258.92,337.30 260.10,337.30 C261.10,337.30 262.08,338.71 262.50,340.00 C263.59,343.33 264.03,355.62 264.50,364.00 C265.02,373.20 265.05,386.78 265.70,393.00 C266.04,396.22 266.75,400.25 267.80,400.50 C268.57,400.68 271.05,400.80 272.00,400.80 C272.51,400.80 272.80,400.72 273.20,400.72 C273.63,400.72 274.06,400.96 274.49,401.07 C274.93,401.18 275.41,401.37 275.81,401.37 C276.15,401.37 276.41,401.04 276.73,400.95 C277.07,400.85 277.43,400.80 277.81,400.73 C278.24,400.65 278.72,400.49 279.17,400.49 C279.61,400.49 280.06,400.54 280.48,400.58 C280.88,400.62 281.29,400.66 281.65,400.73 C281.97,400.79 282.21,400.97 282.54,400.97 C282.94,400.97 283.44,400.89 283.89,400.81 C284.35,400.73 284.83,400.42 285.27,400.42 C285.65,400.42 285.97,400.67 286.36,400.77 C286.81,400.89 287.42,401.09 287.83,401.09 C288.17,401.09 288.37,400.57 288.70,400.57 C289.08,400.57 289.57,400.80 290.00,400.80 C290.41,400.80 290.81,400.77 291.20,400.74 C291.57,400.71 291.92,400.54 292.29,400.54 C292.70,400.54 293.11,400.90 293.52,400.90 C293.98,400.90 294.52,400.22 294.92,400.22 C295.27,400.22 295.51,401.00 295.84,401.00 C296.16,401.00 296.48,400.68 296.88,400.60 C297.39,400.50 298.21,400.52 298.70,400.40 C299.70,400.16 300.69,396.20 301.10,393.00 C301.90,386.71 301.98,370.38 302.60,363.00 C302.97,358.52 303.49,356.31 304.00,352.00 C304.75,345.71 305.25,334.08 306.50,328.50 C307.29,324.97 309.08,321.11 310.70,320.00 C311.74,319.29 312.86,318.60 314.30,318.60 C316.49,318.60 319.93,320.75 322.80,321.50 C325.63,322.24 329.47,322.35 331.40,323.30 C333.11,324.14 334.21,326.68 335.30,329.00 C336.83,332.26 338.04,337.14 339.20,342.00 C340.65,348.09 341.78,356.01 343.10,363.00 C344.42,369.98 345.63,377.81 347.10,383.90 C348.28,388.78 349.36,394.49 351.00,397.00 C352.01,398.54 353.91,400.24 354.90,400.40 C355.38,400.47 355.69,400.51 356.10,400.53 C356.54,400.56 357.03,400.56 357.46,400.58 C357.86,400.60 358.21,400.69 358.60,400.72 C359.04,400.76 359.54,400.80 359.98,400.80 C360.42,400.80 360.85,400.19 361.25,400.19 C361.58,400.19 361.85,400.43 362.19,400.53 C362.57,400.65 362.97,400.85 363.41,400.85 C363.90,400.85 364.51,400.80 365.00,400.80 C365.43,400.80 365.79,400.84 366.20,400.87 C366.65,400.90 367.19,401.02 367.60,401.02 C367.92,401.02 368.15,401.01 368.46,401.01 C368.91,401.00 369.51,400.20 369.99,400.20 C370.38,400.20 370.72,400.35 371.10,400.42 C371.52,400.51 371.95,400.65 372.40,400.67 C372.89,400.69 373.44,400.70 373.94,400.70 C374.44,400.70 374.94,400.62 375.40,400.57 C375.82,400.52 376.23,400.41 376.59,400.41 C376.90,400.41 377.12,400.48 377.43,400.51 C377.84,400.55 378.38,400.57 378.83,400.62 C379.24,400.66 379.61,400.80 380.00,400.80 C380.40,400.80 380.80,400.44 381.20,400.44 C381.59,400.44 382.01,400.72 382.37,400.80 C382.68,400.88 382.93,400.97 383.24,400.97 C383.61,400.97 384.02,400.44 384.44,400.37 C384.84,400.30 385.23,400.24 385.69,400.24 C386.25,400.24 387.13,400.40 387.60,400.40 C388.77,400.40 389.84,393.98 390.20,389.00 C390.96,378.49 390.99,355.23 391.50,336.90 C392.07,316.36 392.82,289.16 393.60,271.50 C394.14,259.23 394.50,247.25 395.40,240.00 C395.91,235.89 396.97,230.20 398.00,230.20 C398.75,230.20 399.96,233.00 400.70,234.90 C401.74,237.58 402.27,241.94 403.30,245.40 C404.35,248.91 405.64,253.60 407.20,255.80 C408.27,257.30 410.11,259.02 411.10,259.20 C411.58,259.29 411.88,259.35 412.30,259.35 C412.75,259.35 413.26,259.16 413.71,259.16 C414.15,259.16 414.59,259.56 415.00,259.56 C415.35,259.56 415.70,259.48 416.01,259.40 C416.33,259.31 416.58,258.66 416.90,258.66 C417.23,258.66 417.56,259.10 417.98,259.19 C418.52,259.30 419.42,259.40 420.00,259.40 C420.45,259.40 420.78,259.34 421.20,259.30 C421.66,259.26 422.20,259.15 422.66,259.15 C423.10,259.15 423.50,259.68 423.93,259.68 C424.38,259.68 424.87,258.99 425.30,258.99 C425.68,258.99 426.01,259.40 426.39,259.40 C426.85,259.40 427.39,258.45 427.85,258.45 C428.25,258.45 428.64,259.08 429.01,259.08 C429.33,259.08 429.63,258.68 429.92,258.68 C430.19,258.68 430.39,259.00 430.70,259.00 C431.61,259.00 433.72,255.57 434.60,253.20 C435.82,249.92 436.56,245.18 437.30,240.10 C438.34,232.99 439.16,223.99 439.90,214.00 C440.91,200.34 441.72,181.98 442.50,165.00 C443.35,146.61 443.95,122.73 444.80,107.50 C445.37,97.23 445.79,87.67 446.70,81.40 C447.25,77.61 448.06,73.24 449.30,72.20 C450.11,71.52 452.28,70.90 453.20,70.90 C453.70,70.90 454.02,71.08 454.40,71.08 C454.74,71.08 455.02,71.03 455.36,70.99 C455.73,70.95 456.16,70.86 456.55,70.78 C456.94,70.71 457.30,70.55 457.70,70.55 C458.12,70.55 458.57,70.69 459.01,70.79 C459.46,70.89 459.95,71.22 460.39,71.22 C460.78,71.22 461.13,71.17 461.52,71.17 C461.95,71.17 462.47,71.48 462.88,71.48 C463.28,71.48 463.60,70.65 463.98,70.65 C464.31,70.65 464.65,70.82 465.00,70.90 C465.38,70.99 465.82,71.17 466.20,71.17 C466.55,71.17 466.84,71.14 467.20,71.11 C467.63,71.07 468.19,70.98 468.61,70.90 C468.95,70.84 469.23,70.71 469.55,70.71 C469.88,70.71 470.21,70.95 470.54,70.95 C470.86,70.95 471.19,70.75 471.50,70.75 C471.80,70.75 472.07,70.97 472.36,71.00 C472.66,71.04 472.98,71.04 473.28,71.07 C473.58,71.10 473.89,71.20 474.16,71.20 C474.47,71.20 474.69,70.61 475.02,70.61 C475.40,70.61 475.97,71.00 476.37,71.00 C476.69,71.00 476.96,70.65 477.24,70.65 C477.53,70.65 477.77,71.07 478.10,71.07 C478.53,71.07 479.17,70.94 479.64,70.93 C480.02,70.91 480.28,70.90 480.70,70.90 C481.67,70.90 483.77,73.09 484.60,74.80 C485.83,77.33 486.31,82.03 487.20,86.60 C488.45,93.02 489.83,102.05 491.10,110.10 C492.43,118.59 493.65,127.81 495.00,136.30 C496.28,144.35 497.52,153.00 499.00,159.80 C500.17,165.18 501.25,170.33 502.90,174.20 C504.21,177.27 505.99,180.23 508.10,182.00 C510.14,183.71 513.39,184.78 515.90,185.90 C518.17,186.92 520.51,187.51 522.50,188.60 C524.40,189.64 526.07,190.96 527.70,192.50 C529.54,194.25 531.06,197.58 532.90,199.00 C534.38,200.14 536.31,201.60 537.60,201.60 C538.85,201.60 540.12,199.38 540.80,197.70 C541.84,195.12 542.46,190.76 543.00,186.00 C543.87,178.25 544.50,166.34 545.00,154.60 C545.64,139.47 545.98,116.11 546.50,102.30 C546.85,93.04 547.01,84.23 547.60,78.80 C547.93,75.70 548.61,71.75 549.60,71.40 C550.26,71.17 552.17,71.00 553.00,71.00 C553.49,71.00 553.83,71.13 554.20,71.13 C554.54,71.13 554.84,70.80 555.16,70.80 C555.47,70.80 555.78,70.80 556.09,70.81 C556.39,70.81 556.64,70.97 556.97,70.97 C557.38,70.97 557.93,70.76 558.37,70.76 C558.79,70.76 559.17,71.23 559.55,71.23 C559.90,71.23 560.23,70.90 560.57,70.90 C560.91,70.90 561.26,71.17 561.60,71.17 C561.96,71.17 562.33,70.61 562.69,70.61 C562.99,70.61 563.27,70.67 563.59,70.67 C563.99,70.67 564.51,70.28 564.86,70.28 C565.19,70.28 565.39,71.13 565.70,71.13 C565.99,71.13 566.36,71.02 566.67,71.02 C566.97,71.02 567.20,71.41 567.53,71.41 C567.95,71.41 568.58,71.15 569.02,71.15 C569.38,71.15 569.65,71.34 570.01,71.34 C570.44,71.34 570.94,70.94 571.42,70.94 C571.91,70.94 572.47,71.07 572.92,71.07 C573.31,71.07 573.61,70.97 573.98,70.97 C574.39,70.97 574.86,71.12 575.26,71.12 C575.63,71.12 575.93,70.96 576.31,70.96 C576.76,70.96 577.31,71.22 577.76,71.22 C578.15,71.22 578.48,71.21 578.84,71.20 C579.22,71.18 579.61,71.00 580.00,71.00 C580.40,71.00 580.79,71.18 581.20,71.18 C581.64,71.18 582.12,70.94 582.57,70.94 C583.03,70.94 583.48,71.23 583.94,71.23 C584.43,71.23 584.98,70.72 585.45,70.72 C585.84,70.72 586.16,70.81 586.55,70.87 C586.99,70.94 587.50,71.18 587.95,71.18 C588.36,71.18 588.73,71.06 589.13,71.06 C589.57,71.06 590.05,71.27 590.49,71.27 C590.93,71.27 591.35,71.10 591.77,71.03 C592.17,70.96 592.59,70.82 592.96,70.82 C593.30,70.82 593.57,71.10 593.91,71.10 C594.28,71.10 594.68,71.07 595.09,71.07 C595.53,71.07 596.05,71.08 596.47,71.08 C596.84,71.08 597.12,71.06 597.48,71.03 C597.92,71.00 598.45,70.82 598.93,70.78 C599.42,70.74 599.97,70.70 600.40,70.70 C600.83,70.70 601.13,71.58 601.56,71.58 C602.01,71.58 602.74,71.20 603.10,71.20 C603.78,71.20 604.35,74.21 604.60,76.50 C605.09,81.05 605.15,90.33 605.50,98.20 C605.92,107.66 606.41,120.37 607.00,129.50 C607.47,136.68 607.91,143.81 608.70,148.80 C609.23,152.15 609.89,157.20 611.10,157.20 C612.14,157.20 615.14,155.74 617.10,154.80 C619.14,153.82 621.14,152.41 623.10,151.20 C625.01,150.01 626.97,147.60 628.70,147.60 C630.16,147.60 631.39,149.14 632.80,150.00 C634.35,150.95 636.51,153.10 637.60,153.10 C638.10,153.10 638.42,152.91 638.80,152.91 C639.19,152.91 639.49,153.56 639.91,153.56 C640.35,153.56 641.00,153.56 641.43,153.55 C641.78,153.55 642.02,153.36 642.35,153.36 C642.73,153.36 643.08,153.60 643.60,153.60 C644.68,153.60 647.58,152.39 648.40,151.20 C649.64,149.41 650.15,144.01 650.80,139.20 C651.81,131.78 652.45,119.41 653.30,110.20 C654.08,101.80 654.73,92.42 655.70,86.10 C656.35,81.83 656.97,77.62 658.10,75.30 C658.87,73.73 660.75,71.88 661.70,71.70 C662.17,71.61 662.49,71.56 662.90,71.54 C663.33,71.52 663.81,71.51 664.21,71.51 C664.55,71.51 664.82,71.52 665.16,71.52 C665.56,71.52 666.01,71.32 666.46,71.28 C666.95,71.24 667.52,71.21 668.00,71.20 C668.42,71.19 668.78,71.18 669.20,71.18 C669.68,71.18 670.27,71.22 670.74,71.27 C671.15,71.32 671.49,71.58 671.88,71.58 C672.33,71.58 672.81,70.78 673.28,70.78 C673.69,70.78 674.13,70.82 674.51,70.88 C674.86,70.93 675.12,71.22 675.48,71.25 C675.90,71.29 676.52,71.27 676.92,71.31 C677.27,71.34 677.52,71.97 677.84,71.97 C678.16,71.97 678.45,71.32 678.82,71.32 C679.24,71.32 679.86,71.49 680.30,71.49 C680.67,71.49 680.95,71.43 681.30,71.37 C681.74,71.30 682.26,70.88 682.74,70.88 C683.20,70.88 683.66,70.90 684.13,70.91 C684.61,70.93 685.15,70.94 685.60,70.97 C686.02,71.00 686.38,71.54 686.76,71.54 C687.07,71.54 687.34,71.47 687.68,71.41 C688.11,71.32 688.67,70.85 689.10,70.85 C689.46,70.85 689.74,70.86 690.09,70.87 C690.51,70.89 691.05,71.12 691.46,71.12 C691.79,71.12 692.06,71.00 692.35,71.00 C692.66,71.00 692.92,71.48 693.24,71.48 C693.61,71.48 694.06,71.27 694.48,71.17 C694.91,71.07 695.36,70.89 695.79,70.89 C696.22,70.89 696.62,71.18 697.07,71.26 C697.55,71.35 698.12,71.47 698.62,71.47 C699.10,71.47 699.56,71.26 700.00,71.20 C700.41,71.15 700.82,71.09 701.20,71.09 C701.55,71.09 701.87,71.18 702.20,71.25 C702.52,71.33 702.80,71.64 703.16,71.64 C703.59,71.64 704.12,71.14 704.63,71.00 C705.13,70.85 705.69,70.67 706.18,70.67 C706.61,70.67 707.03,70.70 707.40,70.75 C707.82,70.80 708.12,71.81 708.54,71.81 C708.99,71.81 709.58,70.99 710.07,70.99 C710.48,70.99 710.83,71.25 711.26,71.25 C711.74,71.25 712.30,70.90 712.81,70.90 C713.32,70.90 713.91,70.95 714.32,71.02 C714.70,71.08 714.97,71.88 715.29,71.88 C715.59,71.88 715.86,71.26 716.20,71.16 C716.55,71.05 717.01,70.95 717.41,70.95 C717.85,70.95 718.29,71.68 718.71,71.68 C719.07,71.68 719.40,71.45 719.75,71.33 C720.13,71.20 720.51,70.92 720.90,70.92 C721.35,70.92 721.84,71.61 722.28,71.61 C722.64,71.61 722.97,71.43 723.33,71.40 C723.70,71.38 724.11,71.35 724.46,71.35 C724.78,71.35 725.03,71.45 725.36,71.49 C725.76,71.54 726.24,71.57 726.70,71.62 C727.20,71.67 727.79,71.81 728.25,71.81 C728.66,71.81 728.98,71.16 729.35,71.12 C729.67,71.09 729.98,71.07 730.31,71.07 C730.70,71.07 731.13,71.51 731.53,71.51 C731.95,71.51 732.38,70.83 732.76,70.83 C733.13,70.83 733.42,71.65 733.80,71.65 C734.16,71.65 734.62,71.64 734.98,71.61 C735.36,71.59 735.67,70.84 736.03,70.84 C736.36,70.84 736.71,71.21 737.05,71.21 C737.36,71.21 737.66,71.16 737.98,71.16 C738.34,71.16 738.73,71.19 739.10,71.20" fill="none" stroke="#0000ff" stroke-width="3.4" stroke-linejoin="round" stroke-linecap="butt"/>
<line x1="131.5" y1="397.4" x2="727.8" y2="113.6" stroke="#7a7a7a" stroke-width="1.9" stroke-dasharray="8,6.23" stroke-dashoffset="2.0"/>
<polygon points="398.80,197.00 402.15,206.99 412.69,207.09 404.22,213.36 407.38,223.41 398.80,217.30 390.22,223.41 393.38,213.36 384.91,207.09 395.45,206.99" fill="#ff0000" stroke="#000" stroke-width="3.4" stroke-linejoin="round"/>
<polygon points="401.30,686.20 404.65,696.19 415.19,696.29 406.72,702.56 409.88,712.61 401.30,706.50 392.72,712.61 395.88,702.56 387.41,696.29 397.95,696.19" fill="#ff0000" stroke="#000" stroke-width="3.4" stroke-linejoin="round"/>
<line x1="632.9" y1="194.6" x2="700" y2="194.6" stroke="#0000ff" stroke-width="3.3" stroke-linecap="round"/>
<polygon points="713.6,194.6 697.6,190.3 697.6,198.9" fill="#0000ff" stroke="#0000ff" stroke-width="1.2" stroke-linejoin="round"/>
<line x1="233.4" y1="640.8" x2="168" y2="640.8" stroke="#0000ff" stroke-width="3.3" stroke-linecap="round"/>
<polygon points="155.2,640.8 171.2,636.5 171.2,645.1" fill="#0000ff" stroke="#0000ff" stroke-width="1.2" stroke-linejoin="round"/>
<text class="b" transform="translate(198.6,847.1) scale(1,1.070)" font-size="29" text-anchor="middle">3.2</text>
<text class="b" transform="translate(333.6,847.1) scale(1,1.070)" font-size="29" text-anchor="middle">3.4</text>
<text class="b" transform="translate(468.5,847.1) scale(1,1.070)" font-size="29" text-anchor="middle">3.6</text>
<text class="b" transform="translate(603.5,847.1) scale(1,1.070)" font-size="29" text-anchor="middle">3.8</text>
<text class="b" transform="translate(738.5,847.1) scale(1,1.070)" font-size="29" text-anchor="middle">4.0</text>
<text class="b" transform="translate(115.1,803.8) scale(1,1.070)" font-size="29" text-anchor="end">0.0</text>
<text class="b" transform="translate(115.1,677.1) scale(1,1.070)" font-size="29" text-anchor="end">0.2</text>
<text class="b" transform="translate(115.1,549.3) scale(1,1.070)" font-size="29" text-anchor="end">0.4</text>
<text class="b" transform="translate(115.1,421.4) scale(1,1.070)" font-size="29" text-anchor="end">0.6</text>
<text class="b" transform="translate(745.4,479.2) scale(1,1.070)" font-size="29">6</text>
<text class="b" transform="translate(745.4,325.8) scale(1,1.070)" font-size="29">7</text>
<text class="b" transform="translate(745.4,172.4) scale(1,1.070)" font-size="29">8</text>
<text class="b" x="435" y="900.9" font-size="29" text-anchor="middle">B[T]</text>
<g transform="translate(40.4,748.2) rotate(-90)" fill="#0000ff"><text class="b" x="0" y="0" font-size="29.3">R<tspan font-size="21.5" dy="11.6" dx="0.8">xx</tspan><tspan dy="-11.6" dx="0.4">[k</tspan><tspan class="ser" font-weight="normal" font-size="31" dx="-0.5">Ω</tspan>]</text></g>
<g transform="translate(790.3,175.8) rotate(90)" fill="#0000ff"><text class="b" x="0" y="0" font-size="29.5">R<tspan font-size="21.5" dy="11.6" dx="1.5">x</tspan><tspan font-size="15.6" stroke="#0000ff" stroke-width="0.5">Y</tspan><tspan font-size="29.5" dy="-11.6" dx="0.8">[k</tspan><tspan class="ser" font-weight="normal" font-size="31.5" dx="-0.5">Ω</tspan>]</text></g>
<text class="ser" x="153.8" y="454.7" font-size="30" textLength="13.6" lengthAdjust="spacingAndGlyphs">ν</text><text x="167.8" y="454.7" font-size="24.5" textLength="30" lengthAdjust="spacingAndGlyphs">=4</text>
<text class="ser" x="673.3" y="454.7" font-size="30" textLength="13.6" lengthAdjust="spacingAndGlyphs">ν</text><text x="687.3" y="454.7" font-size="24.5" textLength="30" lengthAdjust="spacingAndGlyphs">=3</text>
<text x="405.8" y="455.8" font-size="22.5">7/2</text>
<text transform="translate(239.6,451.5) rotate(-90) scale(1,1.07)" font-size="22.6" text-anchor="middle">3+4/5</text>
<text transform="translate(289.6,450.0) rotate(-90) scale(1,1.07)" font-size="22.6" text-anchor="middle">RIQHS</text>
<text transform="translate(323.1,449.5) rotate(-90) scale(1,1.07)" font-size="22.6" text-anchor="middle">3+2/3</text>
<text transform="translate(378.1,450.0) rotate(-90) scale(1,1.07)" font-size="22.6" text-anchor="middle">RIQHS</text>
<text transform="translate(474.0,450.0) rotate(-90) scale(1,1.07)" font-size="22.6" text-anchor="middle">RIQHS</text>
<text transform="translate(544.6,450.2) rotate(-90) scale(1,1.07)" font-size="22.6" text-anchor="middle">3+1/3</text>
<text transform="translate(581.5,450.0) rotate(-90) scale(1,1.07)" font-size="22.6" text-anchor="middle">RIQHS</text>
<text transform="translate(652.6,452.2) rotate(-90) scale(1,1.07)" font-size="22.6" text-anchor="middle">3+1/5</text>
<text x="378" y="114.7" font-size="22" text-anchor="middle">h</text>
<line x1="359" y1="118.2" x2="396.7" y2="118.2" stroke="#000" stroke-width="1.8"/>
<text x="360.9" y="148.2" font-size="23">3e<tspan font-size="13.5" dy="-12.2">2</tspan></text>
<text x="437.6" y="336" font-size="22" text-anchor="middle">h</text>
<line x1="418.4" y1="339.3" x2="456" y2="339.3" stroke="#000" stroke-width="1.8"/>
<text x="421" y="368.7" font-size="22">4e<tspan font-size="13.5" dy="-11.8" dx="0.6">2</tspan></text>
<path d="M389.2,95 Q398,80 420,78" fill="none" stroke="#000" stroke-width="2"/>
<polygon points="433.6,76.1 418.2,73.8 419.6,82.8" fill="#000"/>
<path d="M430.2,374.8 Q426,394 408,398" fill="none" stroke="#000" stroke-width="2"/>
<polygon points="394.1,398.3 409.5,394.2 410,403" fill="#000"/>
</svg></body></html>
